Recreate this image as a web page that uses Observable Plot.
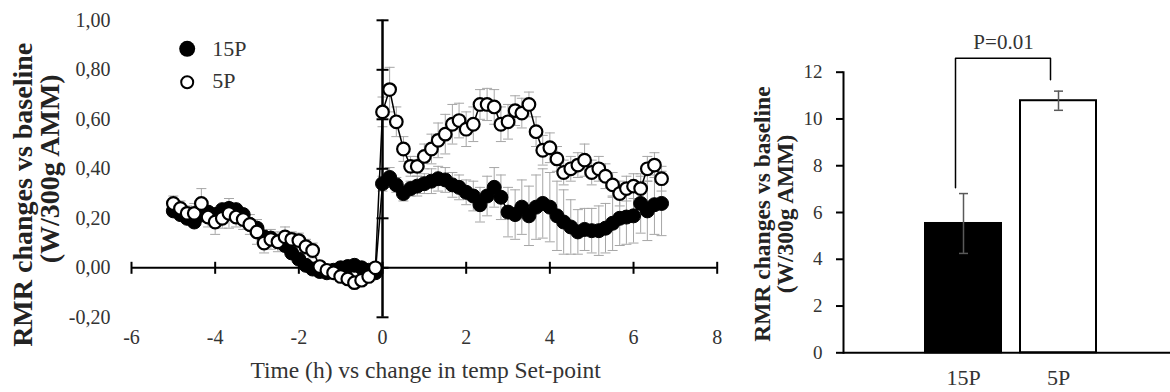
<!DOCTYPE html>
<html><head><meta charset="utf-8">
<script src="https://cdn.jsdelivr.net/npm/d3@7"></script>
<script src="https://cdn.jsdelivr.net/npm/@observablehq/plot@0.6"></script>
<style>
html,body{margin:0;padding:0;background:#fff;}
#wrap{position:relative;width:1170px;height:392px;overflow:hidden;background:#fff;}
#left{position:absolute;left:0;top:0;}
#right{position:absolute;left:740px;top:0;}
</style></head><body><div id="wrap"><div id="left"></div><div id="right"></div></div>
<script>
// ---- Left chart data (time course) ----
const hours = [-5.00,-4.83,-4.67,-4.50,-4.33,-4.17,-4.00,-3.83,-3.67,-3.50,-3.33,-3.17,-3.00,-2.83,-2.67,-2.50,-2.33,-2.17,-2.00,-1.83,-1.67,-1.50,-1.33,-1.17,-1.00,-0.83,-0.67,-0.50,-0.33,-0.17,
  0.00,0.17,0.33,0.50,0.67,0.83,1.00,1.17,1.33,1.50,1.67,1.83,2.00,2.17,2.33,2.50,2.67,2.83,3.00,3.17,3.33,3.50,3.67,3.83,4.00,4.17,4.33,4.50,4.67,4.83,5.00,5.17,5.33,5.50,5.67,5.83,6.00,6.17,6.33,6.50,6.67];
const rmr15P = [0.23,0.215,0.20,0.185,0.215,0.225,0.215,0.235,0.24,0.235,0.215,0.175,0.16,0.125,0.12,0.105,0.09,0.06,0.035,0.01,-0.005,-0.015,-0.02,-0.01,0.0,0.005,0.01,0.0,-0.01,-0.02,
  0.34,0.365,0.335,0.30,0.32,0.33,0.34,0.35,0.36,0.355,0.335,0.325,0.305,0.29,0.255,0.29,0.325,0.285,0.225,0.215,0.245,0.21,0.245,0.26,0.245,0.21,0.185,0.165,0.145,0.155,0.15,0.15,0.16,0.18,0.20,0.205,0.21,0.26,0.23,0.255,0.26];
const rmr5P = [0.26,0.24,0.22,0.22,0.26,0.205,0.185,0.20,0.22,0.205,0.195,0.175,0.145,0.10,0.115,0.105,0.125,0.115,0.11,0.085,0.07,0.005,-0.01,-0.02,-0.035,-0.045,-0.06,-0.05,-0.035,0.0,
  0.63,0.72,0.59,0.48,0.41,0.41,0.45,0.48,0.515,0.54,0.58,0.595,0.56,0.58,0.66,0.66,0.65,0.58,0.59,0.635,0.625,0.66,0.55,0.475,0.485,0.44,0.385,0.40,0.415,0.435,0.385,0.40,0.37,0.335,0.30,0.32,0.33,0.32,0.40,0.415,0.36];
const err15P = [0.02,0.02,0.02,0.02,0.03,0.02,0.02,0.02,0.02,0.02,0.02,0.02,0.02,0.02,0.02,0.02,0.02,0.02,0.02,0.02,0.02,0.02,0.02,0.02,0.02,0.02,0.02,0.02,0.02,0.02,
  0.03,0.04,0.03,0.03,0.03,0.04,0.04,0.05,0.05,0.05,0.05,0.05,0.05,0.06,0.07,0.08,0.08,0.09,0.10,0.10,0.11,0.12,0.13,0.14,0.14,0.14,0.13,0.11,0.09,0.085,0.09,0.10,0.10,0.11,0.11,0.11,0.11,0.12,0.12,0.12,0.13];
const err5P = [0.03,0.03,0.03,0.04,0.06,0.04,0.05,0.04,0.06,0.04,0.04,0.04,0.05,0.04,0.04,0.04,0.04,0.03,0.03,0.03,0.03,0.02,0.02,0.02,0.02,0.02,0.02,0.02,0.02,0.02,
  0.06,0.09,0.06,0.05,0.04,0.04,0.05,0.06,0.07,0.08,0.08,0.07,0.07,0.07,0.06,0.065,0.07,0.07,0.07,0.06,0.06,0.05,0.06,0.06,0.06,0.05,0.05,0.05,0.05,0.065,0.05,0.05,0.05,0.05,0.05,0.05,0.05,0.05,0.05,0.05,0.05];
const seriesNames = ["15P", "5P"];
const xTicks = [-6, -4, -2, 0, 2, 4, 6, 8];
const yTicks = [-0.2, 0, 0.2, 0.4, 0.6, 0.8, 1.0];
const xTitle = "Time (h) vs change in temp Set-point";
const yTitleLines = ["RMR changes vs baseline", "(W/300g AMM)"];

// ---- Right chart data (bars) ----
const barCategories = ["15P", "5P"];
const barMeans = [5.53, 10.78];
const barErrors = [1.28, 0.41];
const barTicks = [0, 2, 4, 6, 8, 10, 12];
const bracketCats = ["15P", "15P", "5P", "5P"];
const bracketVals = [7.06, 12.6, 12.6, 11.68];
const pValueLabel = "P=0.01";
const pValueY = 13.27;

// ---- build tables ----
const rows15 = hours.map((t, i) => ({t, v: rmr15P[i], e: err15P[i]}));
const rows5 = hours.map((t, i) => ({t, v: rmr5P[i], e: err5P[i]}));
const bars = barCategories.map((c, i) => ({cat: c, mean: barMeans[i], err: barErrors[i]}));
const bracket = bracketCats.map((c, i) => ({cat: c, y: bracketVals[i]}));

const hLine = {draw(ctx, size) { const w = Math.sqrt(size / Math.PI); ctx.moveTo(-w, 0); ctx.lineTo(w, 0); }};
const vLine = {draw(ctx, size) { const w = Math.sqrt(size / Math.PI); ctx.moveTo(0, -w); ctx.lineTo(0, w); }};
const font = "'Liberation Serif','Times New Roman',serif";
const txt = "#333";
const errGray = "#a6a6a6";

function errMarks(rows) {
  return [
    Plot.ruleX(rows, {x: "t", y1: d => d.v - d.e, y2: d => d.v + d.e, stroke: errGray, strokeWidth: 1}),
    Plot.dot(rows, {x: "t", y: d => d.v + d.e, symbol: hLine, r: 5, stroke: errGray, fill: "none", strokeWidth: 1}),
    Plot.dot(rows, {x: "t", y: d => d.v - d.e, symbol: hLine, r: 5, stroke: errGray, fill: "none", strokeWidth: 1})
  ];
}

const left = Plot.plot({
  width: 740, height: 392,
  marginLeft: 131, marginRight: 23.3, marginTop: 19.8, marginBottom: 75.2,
  style: {fontFamily: font, fontSize: "20px", color: txt, background: "transparent", overflow: "visible"},
  x: {domain: [-6, 8], label: null},
  y: {domain: [-0.2, 1.0], label: null},
  marks: [
    Plot.axisX(xTicks, {tickSize: 0, tickPadding: 12, tickFormat: d => String(d), fontSize: 20, fontFamily: font, fill: txt, label: null}),
    Plot.axisY(yTicks, {tickSize: 0, tickPadding: 21, tickFormat: d => d.toFixed(2).replace(".", ","), fontSize: 20, fontFamily: font, fill: txt, label: null}),
    ...errMarks(rows15),
    ...errMarks(rows5),
    Plot.ruleY([0], {stroke: "black", strokeWidth: 2}),
    Plot.ruleX([0], {stroke: "black", strokeWidth: 2.5}),
    Plot.dot(yTicks, {x: () => 0, y: d => d, symbol: hLine, r: 6, stroke: "black", fill: "none", strokeWidth: 2}),
    Plot.dot(xTicks, {x: d => d, y: () => 0, symbol: vLine, r: 6, stroke: "black", fill: "none", strokeWidth: 2}),
    Plot.line(rows15, {x: "t", y: "v", stroke: "black", strokeWidth: 1.5}),
    Plot.dot(rows15, {x: "t", y: "v", r: 7, fill: "black", stroke: "black", strokeWidth: 1}),
    Plot.line(rows5, {x: "t", y: "v", stroke: "black", strokeWidth: 1.5}),
    Plot.dot(rows5, {x: "t", y: "v", r: 6.3, fill: "white", stroke: "black", strokeWidth: 2.2}),
    // legend
    Plot.dot([seriesNames[0]], {frameAnchor: "top-left", dx: 55.7, dy: 28.5, r: 8, fill: "black"}),
    Plot.dot([seriesNames[1]], {frameAnchor: "top-left", dx: 55.7, dy: 62, r: 6, fill: "white", stroke: "black", strokeWidth: 2}),
    Plot.text([seriesNames[0]], {frameAnchor: "top-left", dx: 80.7, dy: 28.5, text: d => d, textAnchor: "start", lineAnchor: "middle", fontSize: 22, fill: txt}),
    Plot.text([seriesNames[1]], {frameAnchor: "top-left", dx: 80.7, dy: 61, text: d => d, textAnchor: "start", lineAnchor: "middle", fontSize: 22, fill: txt}),
    // titles
    Plot.text([xTitle], {frameAnchor: "bottom", text: d => d, dx: 1.2, dy: 53, textAnchor: "middle", lineAnchor: "middle", fontSize: 23.5, fill: txt}),
    Plot.text([yTitleLines[0]], {frameAnchor: "left", text: d => d, rotate: -90, dx: -108, dy: 26, textAnchor: "middle", lineAnchor: "middle", fontWeight: "bold", fontSize: 28, fill: "#222"}),
    Plot.text([yTitleLines[1]], {frameAnchor: "left", text: d => d, rotate: -90, dx: -81, dy: 0, textAnchor: "middle", lineAnchor: "middle", fontWeight: "bold", fontSize: 28, fill: "#222"})
  ]
});
document.getElementById("left").appendChild(left);

const right = Plot.plot({
  width: 430, height: 392,
  marginLeft: 103, marginRight: 0, marginTop: 71.7, marginBottom: 39.7,
  style: {fontFamily: font, fontSize: "19px", color: txt, background: "transparent", overflow: "visible"},
  x: {domain: barCategories, paddingInner: 0.2, paddingOuter: 0.821, align: 0.526, label: null},
  y: {domain: [0, 12], label: null},
  color: {domain: barCategories, range: ["black", "white"]},
  marks: [
    Plot.barY(bars, {x: "cat", y: "mean", fill: "cat", stroke: "black", strokeWidth: 2}),
    Plot.ruleX(bars, {x: "cat", y1: d => d.mean - d.err, y2: d => d.mean + d.err, stroke: "#595959", strokeWidth: 1.5}),
    Plot.dot(bars, {x: "cat", y: d => d.mean + d.err, symbol: hLine, r: 4.5, stroke: "#595959", fill: "none", strokeWidth: 1.5}),
    Plot.dot(bars, {x: "cat", y: d => d.mean - d.err, symbol: hLine, r: 4.5, stroke: "#595959", fill: "none", strokeWidth: 1.5}),
    Plot.line(bracket, {x: "cat", y: "y", stroke: "black", strokeWidth: 1.5, dx: -8}),
    Plot.text([pValueLabel], {x: () => barCategories[0], y: () => pValueY, text: d => d, dx: 40, fontSize: 21, fill: txt}),
    Plot.axisY(barTicks, {tickSize: 7, tickPadding: 14, fontSize: 19, fontFamily: font, fill: txt, stroke: "black", strokeWidth: 2, label: null}),
    Plot.axisX({tickSize: 0, tickPadding: 17, fontSize: 22, fontFamily: font, fill: txt, label: null}),
    Plot.ruleY([0], {stroke: "black", strokeWidth: 2}),
    Plot.frame({anchor: "left", stroke: "black", strokeWidth: 2}),
    Plot.text([yTitleLines.join("\n")], {frameAnchor: "left", text: d => d, rotate: -90, dx: -69.5, dy: 1.5, textAnchor: "middle", lineAnchor: "middle", fontWeight: "bold", fontSize: 23.5, lineHeight: 0.98, fill: "#222"})
  ]
});
document.getElementById("right").appendChild(right);
</script>
</body></html>
